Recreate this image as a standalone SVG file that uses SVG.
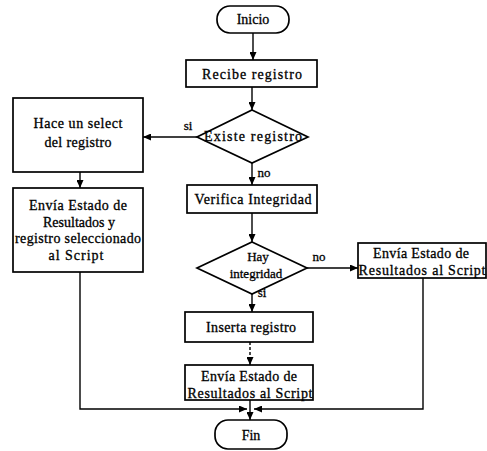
<svg xmlns="http://www.w3.org/2000/svg" width="487" height="451" viewBox="0 0 487 451">
  <style>
    .box { fill: #ffffff; stroke: #000000; stroke-width: 1.7; }
    .edge { fill: none; stroke: #000000; stroke-width: 1.4; }
    .lbl { font-family: "Liberation Serif", "Times New Roman", serif; font-size: 14px; fill: #000000; stroke: #000000; stroke-width: 0.3; text-anchor: middle; }
    .small { font-size: 13px; }
  </style>
  <defs>
    <marker id="arrow" markerWidth="8" markerHeight="7" refX="8" refY="3.5" orient="auto" markerUnits="userSpaceOnUse">
      <path d="M0,0 L8,3.5 L0,7 z" fill="#000000"/>
    </marker>
  </defs>

  <rect width="487" height="451" fill="#ffffff"/>

  <!-- connectors -->
  <g id="connectors">
    <line class="edge" x1="253" y1="33" x2="253" y2="60" marker-end="url(#arrow)"/>
    <line class="edge" x1="252" y1="87" x2="252" y2="110" marker-end="url(#arrow)"/>
    <line class="edge" x1="197" y1="137" x2="143" y2="137" marker-end="url(#arrow)"/>
    <line class="edge" x1="80" y1="172" x2="80" y2="188" marker-end="url(#arrow)"/>
    <line class="edge" x1="252" y1="163" x2="252" y2="185" marker-end="url(#arrow)"/>
    <line class="edge" x1="252" y1="213" x2="252" y2="242" marker-end="url(#arrow)"/>
    <line class="edge" x1="307" y1="268" x2="358" y2="268" marker-end="url(#arrow)"/>
    <line class="edge" x1="252" y1="294" x2="252" y2="312" marker-end="url(#arrow)"/>
    <line class="edge" x1="250" y1="342" x2="250" y2="365" stroke-dasharray="3,2" marker-end="url(#arrow)"/>
    <line class="edge" x1="250" y1="400" x2="250" y2="420" marker-end="url(#arrow)"/>
    <polyline class="edge" points="80,272 80,409 247,409" marker-end="url(#arrow)"/>
    <polyline class="edge" points="423,278 423,409 254,409" marker-end="url(#arrow)"/>
    <text class="lbl small" x="188" y="130">si</text>
    <text class="lbl small" x="264" y="177">no</text>
    <text class="lbl small" x="319" y="261">no</text>
    <text class="lbl small" x="262" y="297">si</text>
  </g>

  <!-- start -->
  <g id="inicio">
    <rect class="box" x="217" y="6" width="72" height="27" rx="13"/>
    <text class="lbl" x="253" y="24">Inicio</text>
  </g>

  <g id="recibe">
    <rect class="box" x="186" y="60" width="131" height="27"/>
    <text class="lbl" x="252" y="79" textLength="100">Recibe registro</text>
  </g>

  <g id="existe">
    <polygon class="box" points="252,110 308,137 252,163 197,137"/>
    <text class="lbl" x="253" y="141" textLength="98">Existe registro</text>
  </g>

  <g id="select">
    <rect class="box" x="13" y="98" width="130" height="74"/>
    <text class="lbl" x="78" y="128" textLength="89">Hace un select</text>
    <text class="lbl" x="78" y="147" textLength="67">del registro</text>
  </g>

  <g id="envia-seleccion">
    <rect class="box" x="13" y="188" width="130" height="84"/>
    <text class="lbl" x="78" y="210" textLength="98">Envía Estado de</text>
    <text class="lbl" x="79" y="227" textLength="72">Resultados y</text>
    <text class="lbl" x="78" y="243" textLength="126">registro seleccionado</text>
    <text class="lbl" x="76" y="260" textLength="55">al Script</text>
  </g>

  <g id="verifica">
    <rect class="box" x="187" y="185" width="130" height="28"/>
    <text class="lbl" x="253" y="204" textLength="117">Verifica Integridad</text>
  </g>

  <g id="integridad">
    <polygon class="box" points="252,242 307,268 252,294 197,268"/>
    <text class="lbl small" x="258" y="261">Hay</text>
    <text class="lbl small" x="256" y="278">integridad</text>
  </g>

  <g id="envia-error">
    <rect class="box" x="358" y="243" width="128" height="35"/>
    <text class="lbl" x="421" y="258" textLength="96">Envía Estado de</text>
    <text class="lbl" x="422" y="275" textLength="127">Resultados al Script</text>
  </g>

  <g id="inserta">
    <rect class="box" x="185" y="312" width="128" height="30"/>
    <text class="lbl" x="251" y="332" textLength="90">Inserta registro</text>
  </g>

  <g id="envia-ok">
    <rect class="box" x="185" y="365" width="128" height="35"/>
    <text class="lbl" x="249" y="381" textLength="96">Envía Estado de</text>
    <text class="lbl" x="250" y="398" textLength="125">Resultados al Script</text>
  </g>

  <g id="fin">
    <rect class="box" x="215" y="420" width="72" height="29" rx="13"/>
    <text class="lbl" x="251" y="440">Fin</text>
  </g>
</svg>
